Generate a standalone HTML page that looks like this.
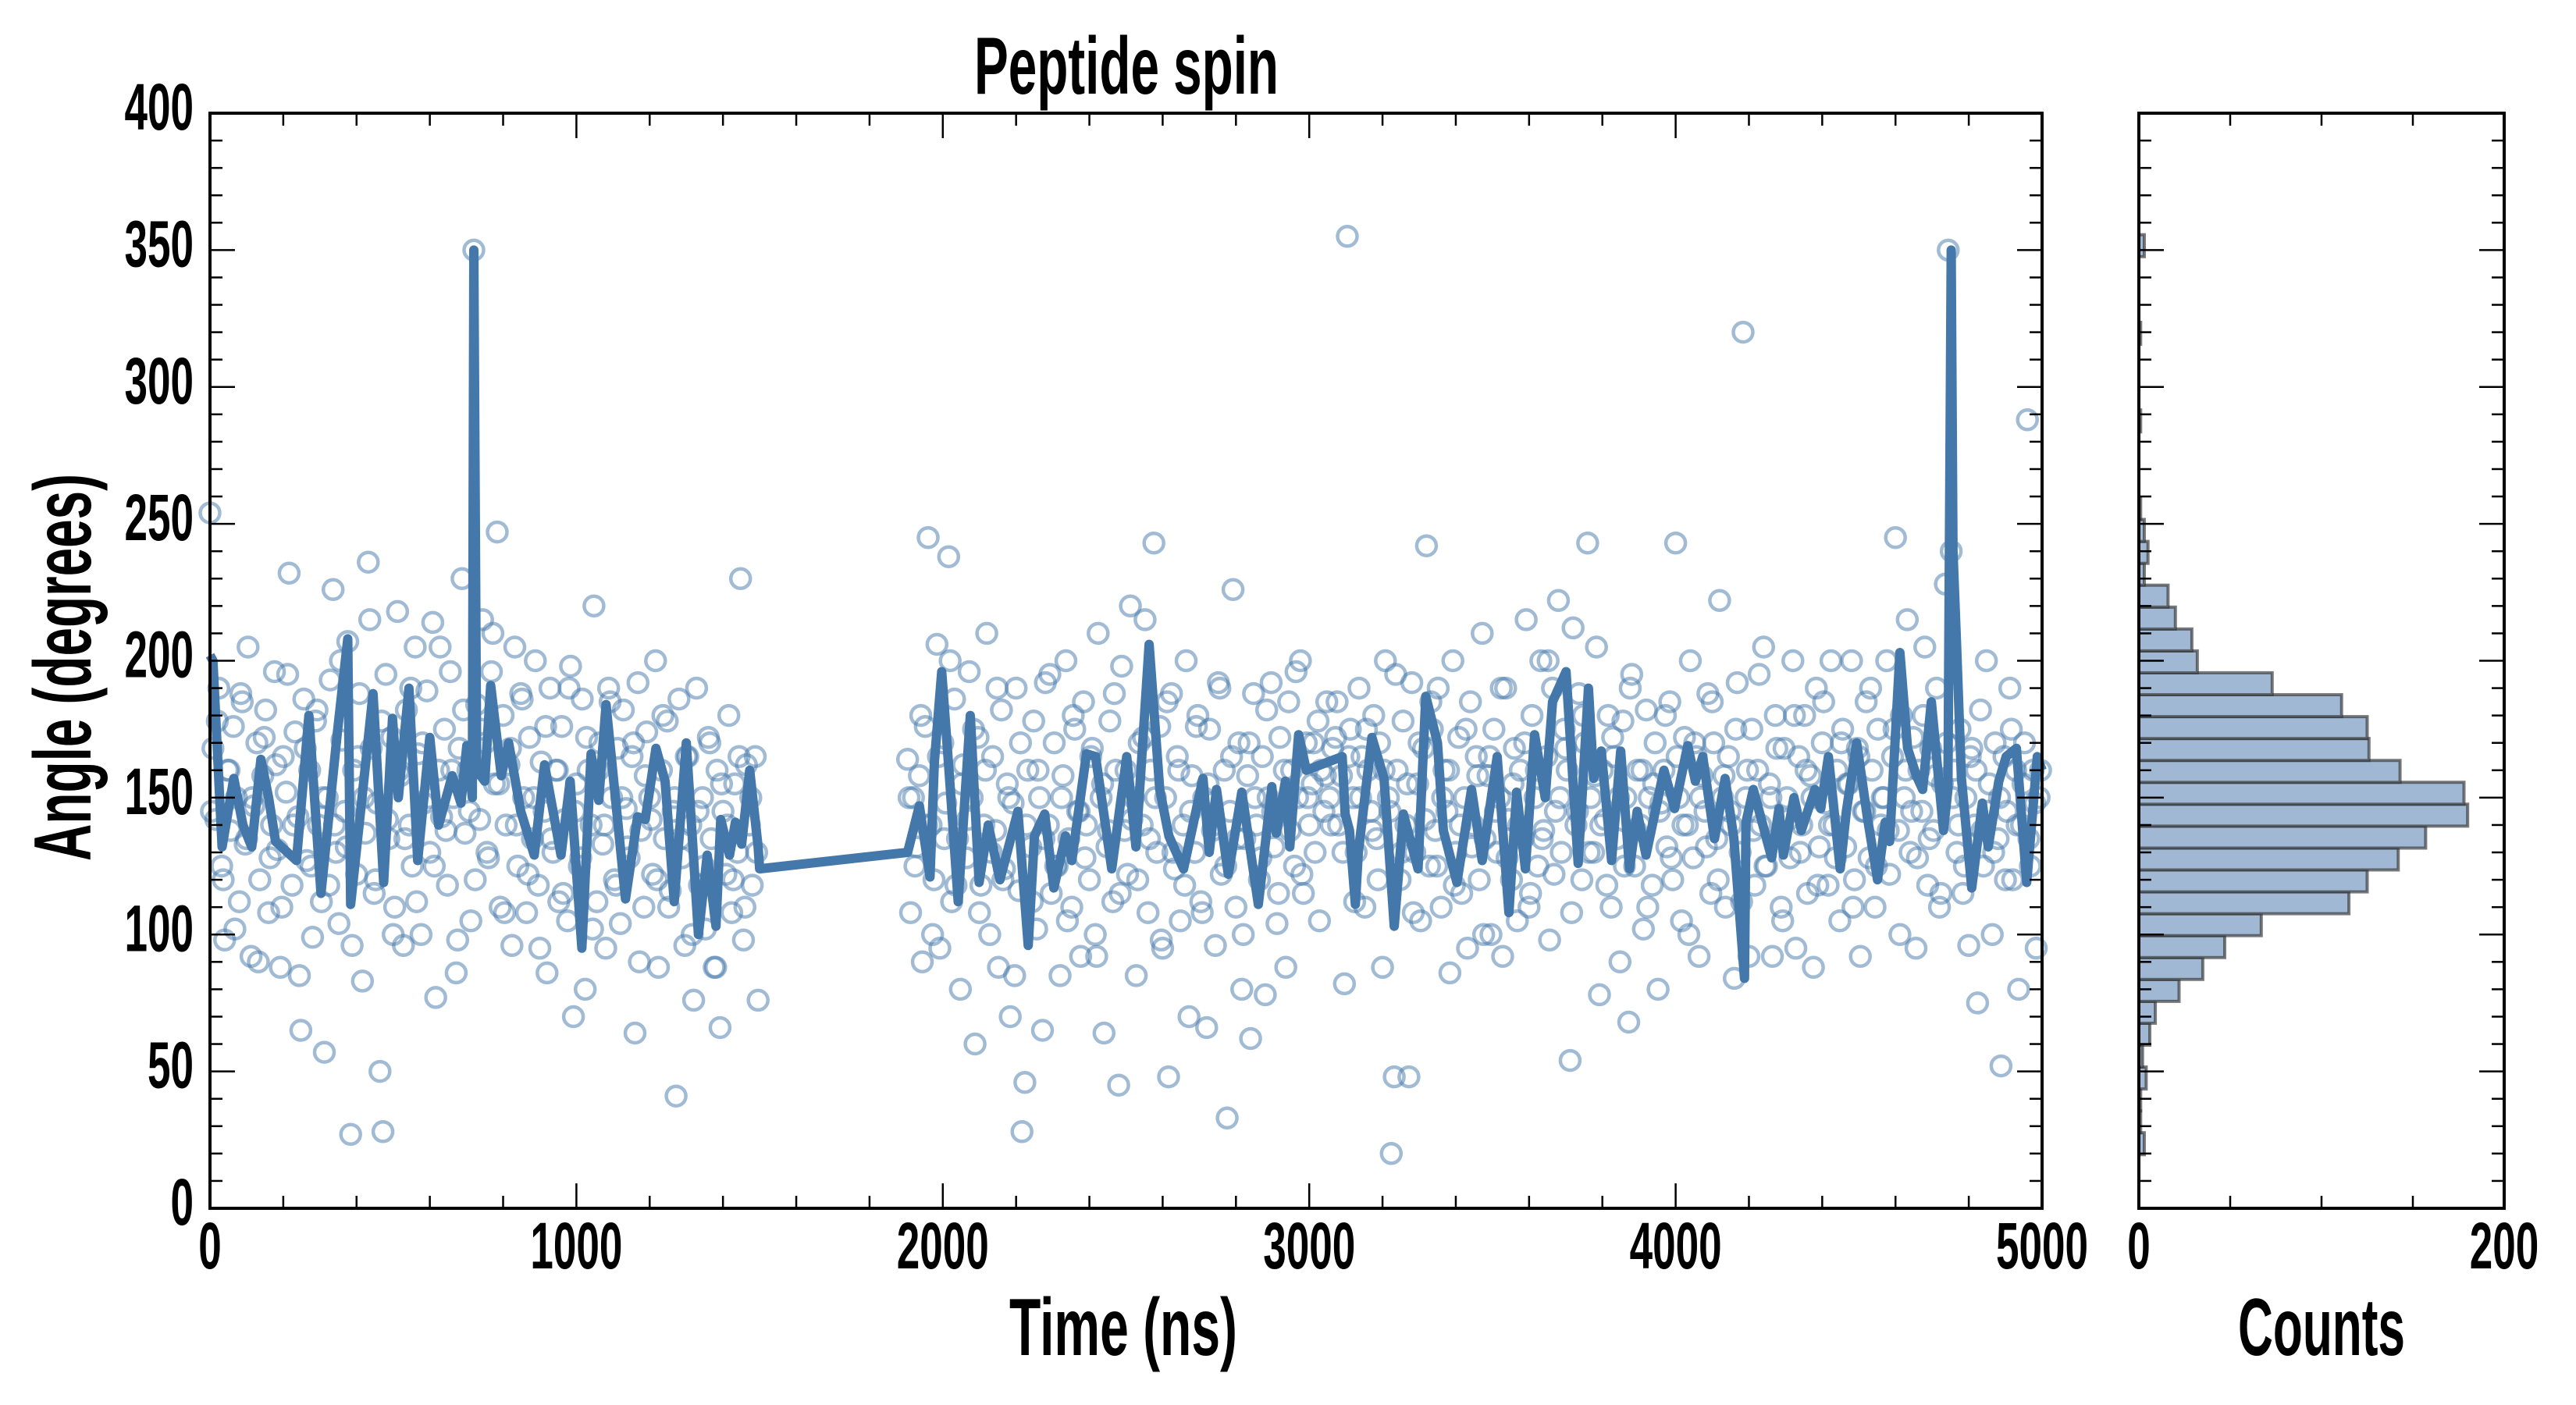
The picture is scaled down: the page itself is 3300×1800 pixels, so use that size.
<!DOCTYPE html>
<html><head><meta charset="utf-8"><style>
html,body{margin:0;padding:0;background:#fff;}
svg{display:block;}
text{font-family:"Liberation Sans Narrow","Liberation Sans",sans-serif;font-weight:bold;fill:#000;}
</style></head><body>
<svg id="chart" width="3300" height="1800" viewBox="0 0 3300 1800" xmlns="http://www.w3.org/2000/svg">
<rect width="3300" height="1800" fill="#fff"/>
<g id="scatter"></g>
<g id="line"></g>
<g id="hist"></g>
<g id="axes"></g>
<text x="1443" y="120" font-size="104" text-anchor="middle" textLength="390" lengthAdjust="spacingAndGlyphs">Peptide spin</text>
<text x="1439" y="1736" font-size="104" text-anchor="middle" textLength="292" lengthAdjust="spacingAndGlyphs">Time (ns)</text>
<text x="2974" y="1736" font-size="104" text-anchor="middle" textLength="214" lengthAdjust="spacingAndGlyphs">Counts</text>
<text transform="translate(116,855) rotate(-90)" x="0" y="0" font-size="104" text-anchor="middle" textLength="496" lengthAdjust="spacingAndGlyphs">Angle (degrees)</text>
</svg>
<script>
const seg1Start = 0, seg2Start = 1904, scatterStep = 8;
const seg1BStart = 4, seg2BStart = 1908, scatterStepB = 16;
const seg1Values = [254,168,142,190,125,98,160,138,176,150,112,185,133,205,92,147,170,120,158,182,
108,140,196,131,88,165,152,232,118,174,143,65,186,127,160,99,178,140,112,57,
150,193,226,130,104,171,145,207,27,160,122,188,83,137,236,168,115,148,50,28,
195,135,172,110,218,158,96,182,140,125,205,166,100,148,189,130,214,77,160,143,
175,118,196,150,86,168,230,137,160,105,350,184,142,215,170,128,196,155,247,110,
180,140,162,96,205,125,188,150,108,172,135,200,118,163,145,86,190,130,160,112,
176,142,105,198,70,155,125,186,80,160,140,220,112,170,133,95,190,150,120,168,
104,182,146,128,165,64,192,138,110,174,150,122,200,88,160,135,178,116,145,41,
186,128,96,165,140,76,190,118,150,102,172,135,88,160,66,145,122,180,108,155,
130,230,98,162,140,118,165,76];
const seg2Values = [164,108,150,132,158,90,176,245,140,120,206,95,170,148,238,112,186,135,80,162,
128,196,150,60,172,118,140,210,100,165,138,88,182,124,155,70,148,190,116,28,
46,160,132,178,102,150,65,192,140,115,170,125,85,158,200,135,110,175,145,92,
185,140,120,168,100,210,150,64,132,178,112,160,45,198,138,122,220,150,85,170,
140,215,108,160,243,130,176,95,150,48,188,124,165,105,140,200,70,158,130,180,
112,150,66,175,138,96,192,122,160,33,145,226,110,170,80,135,158,62,188,140,
120,165,78,150,192,132,104,172,145,88,185,160,125,150,200,115,170,140,155,130,
178,160,145,185,150,168,172,140,158,82,355,175,150,130,190,165,110,160,145,180,
135,170,88,200,150,20,48,160,120,178,140,48,192,130,155,105,168,242,125,175,
138,190,110,160,145,86,200,130,172,115,150,95,185,140,165,120,210,135,158,100,
175,130,150,92,190,142,120,168,105,160,135,215,110,180,150,125,200,138,165,98,
190,145,222,130,175,160,54,212,140,188,120,170,243,150,130,205,78,160,142,180,
110,165,135,90,178,150,68,195,125,160,140,102,182,150,118,170,80,148,160,132,
185,120,243,150,105,172,140,200,128,165,92,158,145,188,115,170,135,222,150,110,
165,140,84,192,130,320,150,92,175,118,160,140,205,125,155,92,180,135,110,168,
150,128,200,95,165,140,180,115,158,88,190,132,170,148,118,200,140,160,105,175,
132,155,200,120,168,92,145,185,128,160,110,175,140,150,200,122,165,245,138,180,
150,215,130,172,95,160,145,205,118,168,138,190,110,155,228,350,240,160,130,175,
115,150,96,168,140,75,182,125,200,155,100,170,135,52,165,145,190,120,160,80,
140,170,288,125,160,95,150];
const seg1BValues = [145,178,120,160,102,188,135,150,90,172,128,162,110,195,140,85,168,125,182,150,
118,140,200,132,96,165,150,215,120,178,142,100,160,135,190,112,170,150,125,205,
138,160,98,182,145,120,175,130,210,155,108,168,140,186,122,150,95,176,135,160,
115,190,145,128,172,102,160,140,185,118,150,132,170,90,158,142,120,180,110,150,
135,165,100,145,125,170,88,155,140,120,165,110,150,130];
const seg2BValues = [150,125,180,140,100,165,135,200,118,155,142,175,108,160,130,190,120,150,85,170,
140,112,160,135,195,125,150,105,180,145,128,165,92,155,138,188,115,160,142,120,
172,135,150,98,185,130,160,118,145,176,108,155,140,190,125,165,135,100,170,150,
128,182,145,115,160,138,196,122,150,170,105,158,140,185,130,165,112,150,175,138,
120,160,145,195,130,155,108,170,142,185,125,150,160,118,140,175,132,158,100,165,
145,190,128,155,140,170,115,160,135,200,122,150,168,108,145,180,130,158,140,118,
172,150,125,190,138,160,110,155,145,180,128,165,140,100,170,150,132,185,120,158,
145,175,112,160,138,195,125,150,168,105,142,180,130,160,150,118,185,140,128,170,
155,110,165,145,190,125,150,138,175,100,160,145,128,180,135,158,115,170,150,140,
125,165,160,138,145,130,150,120,175,140,155,135,148,160];
const lineTimes = [0,8,33,65,90,114,139,160,179,236,270,303,347,376,384,445,474,498,514,543,567,600,624,661,685,701,716,720,728,750,766,795,815,848,885,913,958,983,1015,1040,1061,1081,1134,1167,1188,1217,1242,1267,1300,1333,1357,1381,1394,1418,1434,1451,1473,1496,1500,
1904,1936,1965,1977,1997,2018,2042,2075,2099,2124,2156,2205,2233,2250,2278,2303,2335,2352,2392,2417,2461,2502,2527,2563,2592,2617,2657,2710,2727,2747,2779,2816,2861,2898,2910,2935,2947,2971,2992,
3090,3098,3110,3126,3134,3171,3204,3232,3257,3297,3318,3350,3366,3403,3443,3472,3513,3545,3566,3590,3615,3644,3664,3701,3734,3762,3776,3797,3825,3850,3874,3895,3919,3968,3997,4033,4054,4074,4106,4135,4159,4188,4192,4212,4262,4282,4294,4323,4343,4380,4396,4417,4449,4466,4494,4523,4551,4572,4584,4612,4633,4657,4674,4698,4731,4743,4752,4757,4767,4780,4808,4837,4853,4882,4902,4930,4958,4987,5000];
const lineValues = [202,200,132,157,140,132,164,150,134,127,180,115,173,208,111,188,119,179,150,190,127,172,140,158,148,169,150,350,160,156,191,158,170,145,129,162,129,156,95,166,149,184,113,143,142,168,156,112,170,100,129,103,142,129,141,133,160,132,124,
130,147,121,163,196,158,112,180,119,140,120,145,96,136,144,117,136,127,166,165,124,165,132,206,153,136,124,157,130,153,122,152,111,154,137,156,132,173,160,
165,144,138,111,130,172,157,103,144,124,187,170,138,119,153,127,165,108,152,124,173,150,185,196,126,190,157,167,127,167,124,145,129,160,146,169,156,165,135,157,135,84,141,153,128,146,129,150,138,153,146,165,124,145,170,143,120,141,134,203,168,158,153,185,138,153,350,240,205,157,117,148,132,156,165,168,119,165,160];
const histEdgeStart = 19.6, histBinWidth = 8;
const histCounts = [3,1,1,4,2,6,9,22,35,47,67,115,125,142,157,180,178,143,126,125,111,73,32,29,20,16,3,5,3,1,0,0,0,1,0,0,0,1,0,0,0,3];
const xTickLabels = ["0","1000","2000","3000","4000","5000"];
const yTickLabels = ["0","50","100","150","200","250","300","350","400"];
const histTickLabels = ["0","200"];

const NS = "http://www.w3.org/2000/svg";
const X0 = 269, X1 = 2616, Y0 = 1548, Y1 = 145, HX0 = 2740, HX1 = 3208;
function xs(t){ return X0 + (t/5000)*(X1-X0); }
function ys(v){ return Y0 - (v/400)*(Y0-Y1); }
function hx(c){ return HX0 + (c/200)*(HX1-HX0); }
function mk(tag, attrs, parent){ const e=document.createElementNS(NS,tag); for(const k in attrs) e.setAttribute(k,attrs[k]); parent.appendChild(e); return e; }

// scatter
const sg = document.getElementById('scatter');
function drawSeg(start, step, vals){
  vals.forEach((v,i)=>{
    const t = start+i*step;
    if(t>5000) return;
    const c = mk('circle',{cx:xs(t).toFixed(1),cy:ys(v).toFixed(1),r:12.5,fill:'none',stroke:'#4477aa','stroke-opacity':0.5,'stroke-width':4.5},sg);
    
    
  });
}
drawSeg(seg1Start, scatterStep, seg1Values);
drawSeg(seg2Start, scatterStep, seg2Values);
drawSeg(seg1BStart, scatterStepB, seg1BValues);
drawSeg(seg2BStart, scatterStepB, seg2BValues);

// line
const lg = document.getElementById('line');
const pts = lineTimes.map((t,i)=>xs(t).toFixed(1)+','+ys(lineValues[i]).toFixed(1)).join(' ');
const pl = mk('polyline',{points:pts,fill:'none',stroke:'#4477aa','stroke-width':12,'stroke-linejoin':'round'},lg);



// histogram
const hg = document.getElementById('hist');
histCounts.forEach((c,i)=>{
  if(c<=0) return;
  const lo = histEdgeStart + i*histBinWidth, hi = lo + histBinWidth;
  const r = mk('rect',{x:HX0,y:ys(hi).toFixed(1),width:(hx(c)-HX0).toFixed(1),height:(ys(lo)-ys(hi)).toFixed(1),fill:'#a0b8d3',stroke:'#333','stroke-opacity':0.65,'stroke-width':4},hg);
  
  
});

// axes
const ag = document.getElementById('axes');
function tick(x1,y1,x2,y2,w){ const l=mk('line',{x1,y1,x2,y2,stroke:'#000','stroke-width':w||2.5},ag);   }
function txt(s,x,y,anchor,len,name){
  const t=mk('text',{x,y,'font-size':84,'text-anchor':anchor,textLength:len,lengthAdjust:'spacingAndGlyphs'},ag);
  t.textContent=s;
  
  
}
const dw = 29.5;
for(let v=0; v<=400; v+=10){
  const y=ys(v), major=v%50===0, L=major?32:16;
  tick(X0,y,X0+L,y); tick(X1,y,X1-L,y);
  tick(HX0,y,HX0+L,y); tick(HX1,y,HX1-L,y);
}
yTickLabels.forEach(s=>{ txt(s,248,ys(+s)+21,'end',s.length*dw,'y-tick-label'); });
for(let t=0; t<=5000; t+=200){
  const x=xs(t), major=t%1000===0, L=major?32:16;
  tick(x,Y0,x,Y0-L); tick(x,Y1,x,Y1+L);
}
xTickLabels.forEach(s=>{ txt(s,xs(+s),1625,'middle',s.length*dw,'x-tick-label'); });
for(let c=0; c<=200; c+=50){
  const x=hx(c), L=(c%200===0)?32:16;
  tick(x,Y0,x,Y0-L); tick(x,Y1,x,Y1+L);
}
histTickLabels.forEach(s=>{ txt(s,hx(+s),1625,'middle',s.length*dw,'histogram-x-tick-label'); });
const sp1 = mk('rect',{x:X0,y:Y1,width:X1-X0,height:Y0-Y1,fill:'none',stroke:'#000','stroke-width':4},ag);


const sp2 = mk('rect',{x:HX0,y:Y1,width:HX1-HX0,height:Y0-Y1,fill:'none',stroke:'#000','stroke-width':4},ag);


</script>
</body></html>
